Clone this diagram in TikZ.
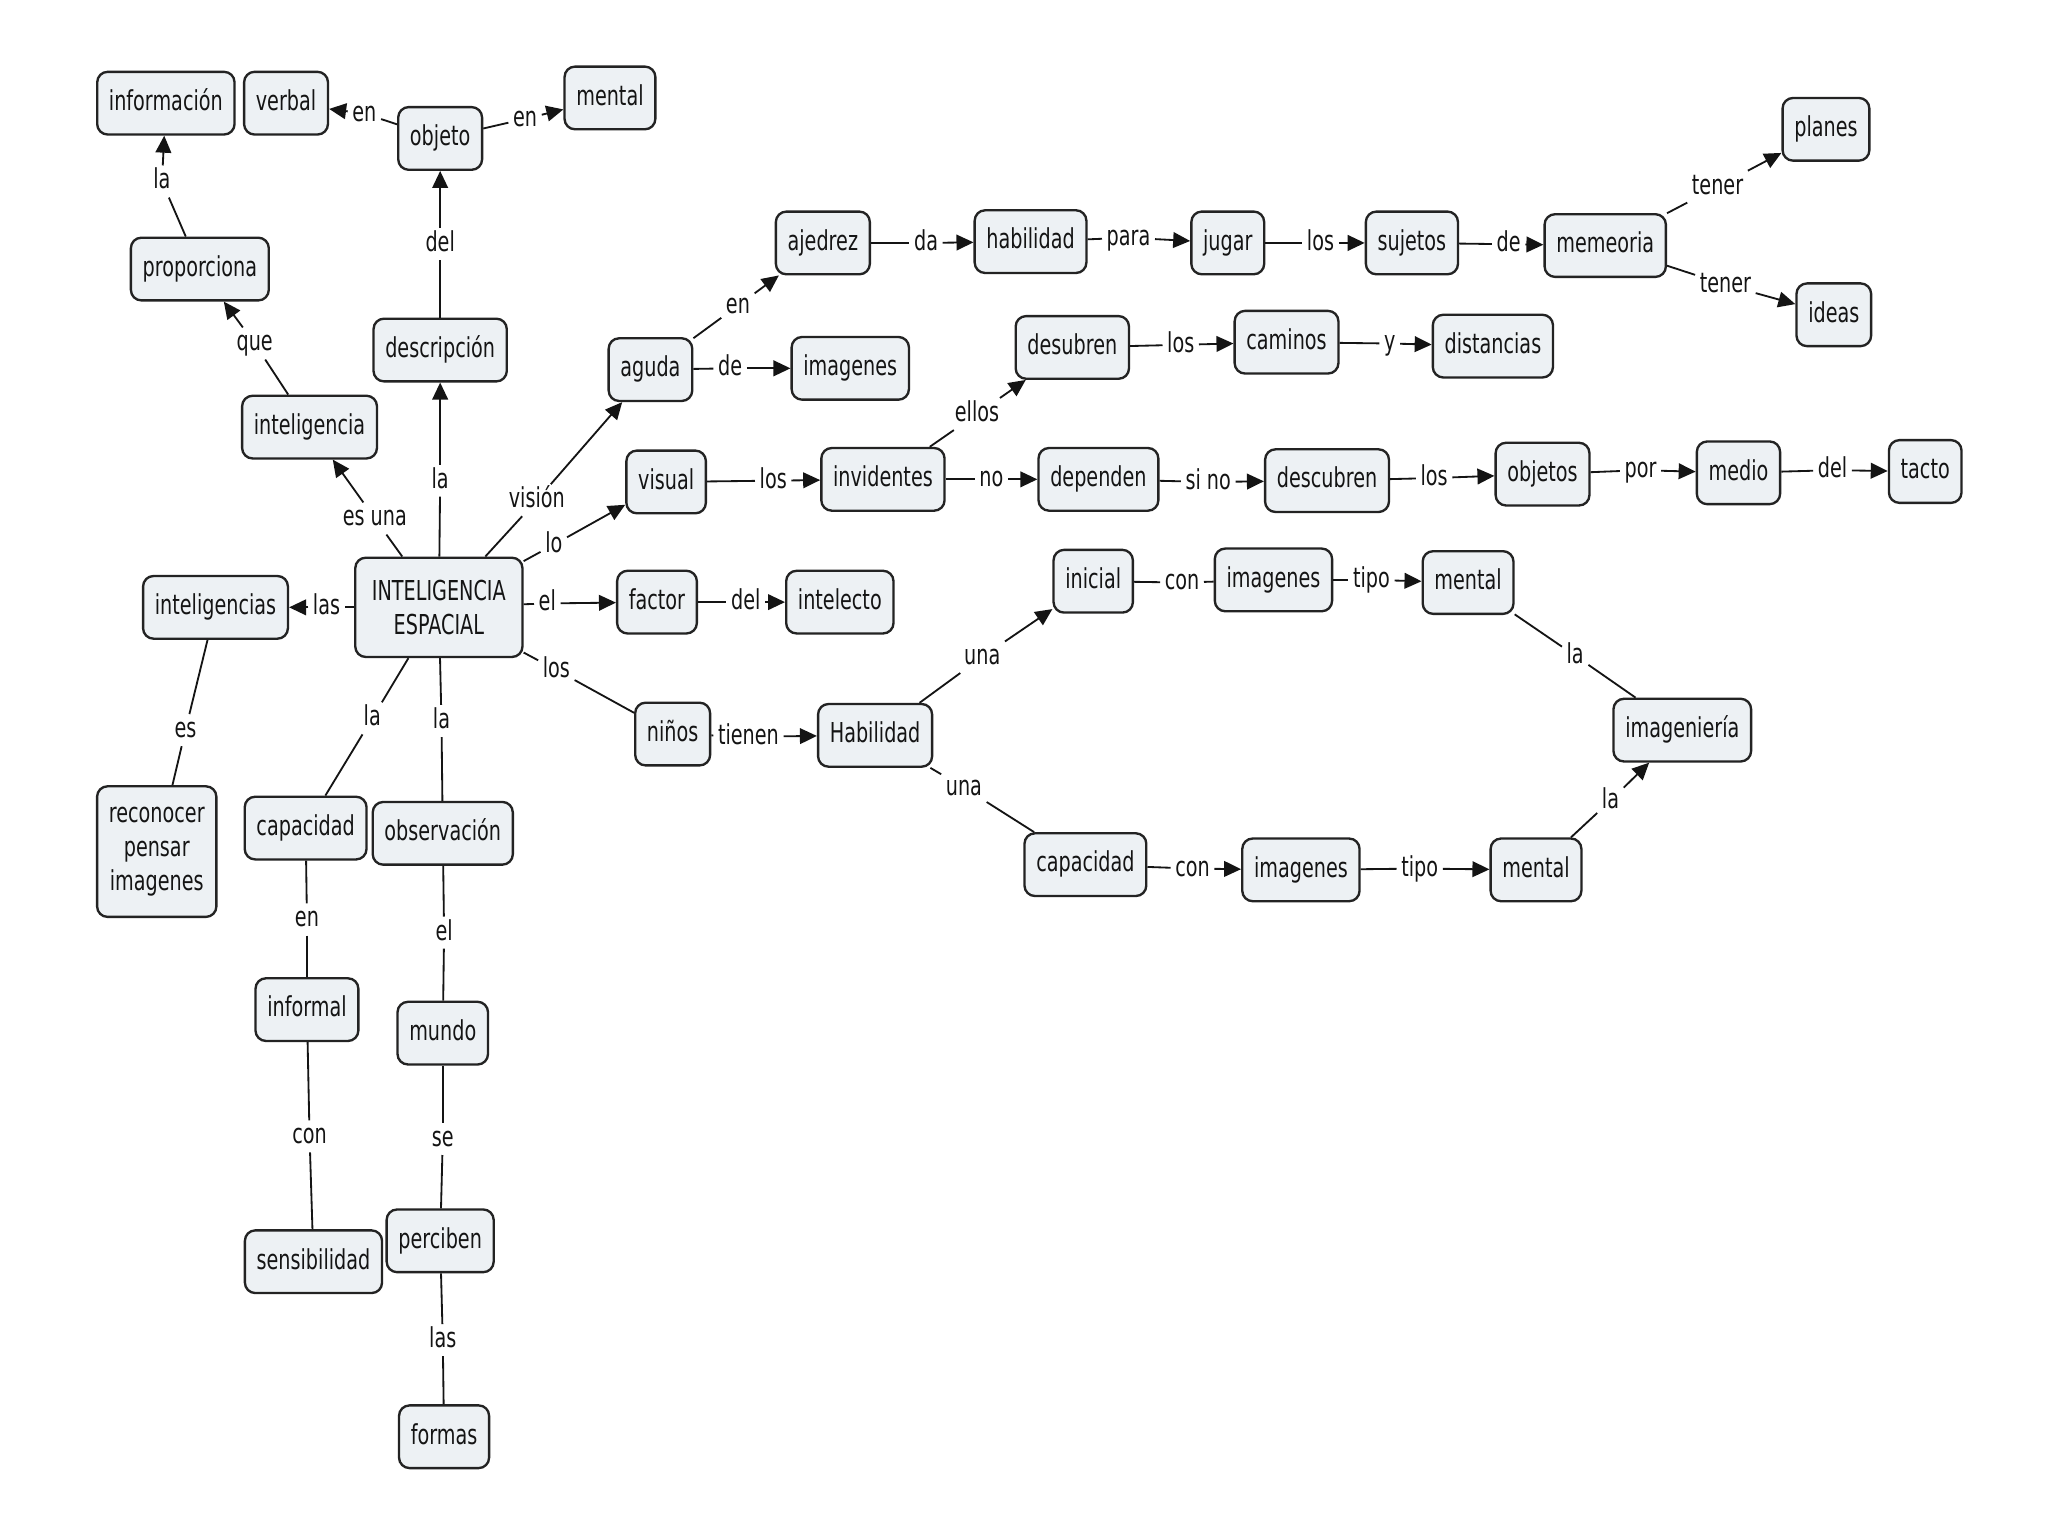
\documentclass[tikz,border=0pt]{standalone}
\usepackage{fontspec}
\setmainfont{DejaVu Sans}[FakeStretch=0.70]
\usetikzlibrary{arrows.meta}
\definecolor{boxfill}{RGB}{237,241,244}
\definecolor{boxline}{RGB}{35,35,35}
\definecolor{inkc}{RGB}{20,20,20}
\newcommand\cmlink[5][arr]{%
  \node[lbl] (#2-#5) at (#3) {#4};
  \draw[conn] (#2) -- (#2-#5);
  \draw[conn,#1] (#2-#5) -- (#5);}
\begin{document}
\begin{tikzpicture}[x=0.5pt,y=-0.5pt,
  every node/.style={font=\fontsize{10.5}{13}\selectfont, text=inkc},
  box/.style={draw=boxline, fill=boxfill, line width=0.9pt, rounded corners=4pt,
    inner xsep=4.5pt, inner ysep=3pt, minimum height=24pt, text height=7.8pt, text depth=2.2pt},
  mbox/.style={draw=boxline, fill=boxfill, line width=0.9pt, rounded corners=4pt,
    inner xsep=4.5pt, inner ysep=4pt, align=center},
  lbl/.style={inner sep=1.6pt, text height=7.2pt, text depth=1.5pt},
  conn/.style={draw=inkc, line width=0.7pt},
  arr/.style={-{Triangle[length=6.5pt,width=6pt]}},
  noarr/.style={-}]
\fill[white] (0,0) rectangle (1568,1176);
\useasboundingbox (0,0) rectangle (1568,1176);
% concepts
\node[box] (informacion) at (127,79) {información};
\node[box] (verbal) at (219,79) {verbal};
\node[box] (objeto) at (337,106) {objeto};
\node[box] (mentalA) at (467,75) {mental};
\node[box] (proporciona) at (153,206) {proporciona};
\node[box] (descripcion) at (337,268) {descripción};
\node[box] (intelg) at (237,327) {inteligencia};
\node[mbox, minimum width=64pt, minimum height=38pt] (intel) at (336,465) {INTELIGENCIA\\ESPACIAL};
\node[box] (intels) at (165,465) {inteligencias};
\node[mbox, minimum height=50pt] (reconocer) at (120,652) {reconocer\\pensar\\imagenes};
\node[box] (capA) at (234,634) {capacidad};
\node[box] (observacion) at (339,638) {observación};
\node[box] (informal) at (235,773) {informal};
\node[box] (mundo) at (339,791) {mundo};
\node[box] (sensibilidad) at (240,966) {sensibilidad};
\node[box] (perciben) at (337,950) {perciben};
\node[box] (formas) at (340,1100) {formas};
\node[box] (aguda) at (498,283) {aguda};
\node[box] (imgA) at (651,282) {imagenes};
\node[box] (ajedrez) at (630,186) {ajedrez};
\node[box] (habilidad) at (789,185) {habilidad};
\node[box] (jugar) at (940,186) {jugar};
\node[box] (sujetos) at (1081,186) {sujetos};
\node[box] (memeoria) at (1229,188) {memeoria};
\node[box] (planes) at (1398,99) {planes};
\node[box] (ideas) at (1404,241) {ideas};
\node[box] (desubren) at (821,266) {desubren};
\node[box] (caminos) at (985,262) {caminos};
\node[box] (distancias) at (1143,265) {distancias};
\node[box] (visual) at (510,369) {visual};
\node[box] (invidentes) at (676,367) {invidentes};
\node[box] (dependen) at (841,367) {dependen};
\node[box] (descubren) at (1016,368) {descubren};
\node[box] (objetos) at (1181,363) {objetos};
\node[box] (medio) at (1331,362) {medio};
\node[box] (tacto) at (1474,361) {tacto};
\node[box] (factor) at (503,461) {factor};
\node[box] (intelecto) at (643,461) {intelecto};
\node[box] (ninos) at (515,562) {niños};
\node[box] (Habilidad) at (670,563) {Habilidad};
\node[box] (inicial) at (837,445) {inicial};
\node[box] (imgB) at (975,444) {imagenes};
\node[box] (mentalB) at (1124,446) {mental};
\node[box] (imagenieria) at (1288,559) {imageniería};
\node[box] (capB) at (831,662) {capacidad};
\node[box] (imgC) at (996,666) {imagenes};
\node[box] (mentalC) at (1176,666) {mental};
% links
\cmlink{intel}{287,397}{es una}{intelg}
\cmlink{intelg}{195,263}{que}{proporciona}
\cmlink{proporciona}{124,139}{la}{informacion}
\cmlink{intel}{337,368}{la}{descripcion}
\cmlink{descripcion}{337,187}{del}{objeto}
\cmlink{objeto}{279,87}{en}{verbal}
\cmlink{objeto}{402,91}{en}{mentalA}
\cmlink{intel}{411,383}{visión}{aguda}
\cmlink{aguda}{565,234}{en}{ajedrez}
\cmlink{aguda}{559,282}{de}{imgA}
\cmlink{ajedrez}{709,186}{da}{habilidad}
\cmlink{habilidad}{864,182}{para}{jugar}
\cmlink{jugar}{1011,186}{los}{sujetos}
\cmlink{sujetos}{1155,187}{de}{memeoria}
\cmlink{memeoria}{1315,143}{tener}{planes}
\cmlink{memeoria}{1321,218}{tener}{ideas}
\cmlink{intel}{424,417}{lo}{visual}
\cmlink{visual}{592,368}{los}{invidentes}
\cmlink{invidentes}{748,317}{ellos}{desubren}
\cmlink{invidentes}{759,367}{no}{dependen}
\cmlink{desubren}{904,264}{los}{caminos}
\cmlink{caminos}{1064,263}{y}{distancias}
\cmlink{dependen}{925,369}{si no}{descubren}
\cmlink{descubren}{1098,366}{los}{objetos}
\cmlink{objetos}{1256,360}{por}{medio}
\cmlink{medio}{1403,360}{del}{tacto}
\cmlink{intel}{419,462}{el}{factor}
\cmlink{factor}{571,461}{del}{intelecto}
\cmlink{intel}{250,465}{las}{intels}
\cmlink[noarr]{intels}{142,559}{es}{reconocer}
\cmlink[noarr]{intel}{285,550}{la}{capA}
\cmlink[noarr]{intel}{338,552}{la}{observacion}
\cmlink[noarr]{capA}{235,704}{en}{informal}
\cmlink[noarr]{informal}{237,870}{con}{sensibilidad}
\cmlink[noarr]{observacion}{340,714}{el}{mundo}
\cmlink[noarr]{mundo}{339,872}{se}{perciben}
\cmlink[noarr]{perciben}{339,1026}{las}{formas}
\cmlink[noarr]{intel}{426,513}{los}{ninos}
\cmlink{ninos}{573,564}{tienen}{Habilidad}
\cmlink{Habilidad}{752,503}{una}{inicial}
\cmlink[noarr]{Habilidad}{738,603}{una}{capB}
\cmlink[noarr]{inicial}{905,446}{con}{imgB}
\cmlink{imgB}{1050,444}{tipo}{mentalB}
\cmlink[noarr]{mentalB}{1206,502}{la}{imagenieria}
\cmlink{capB}{913,665}{con}{imgC}
\cmlink{imgC}{1087,665}{tipo}{mentalC}
\cmlink{mentalC}{1233,613}{la}{imagenieria}
\end{tikzpicture}
\end{document}
